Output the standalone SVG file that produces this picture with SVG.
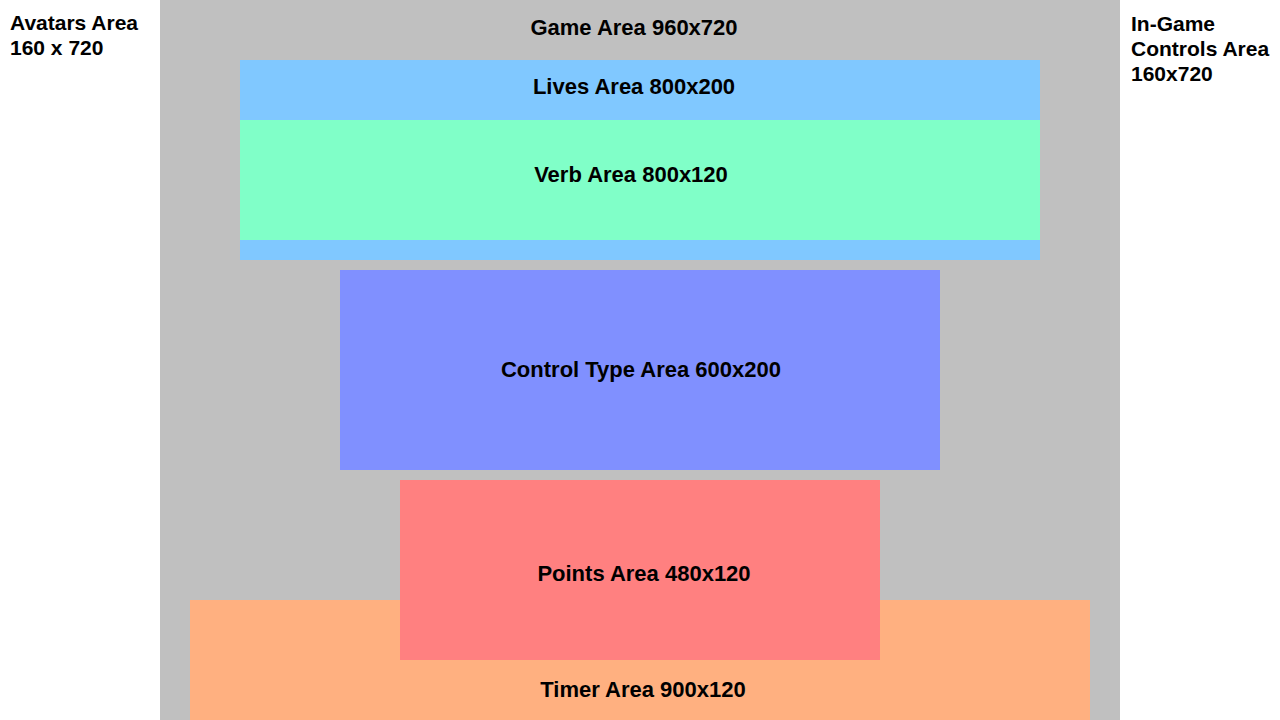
<svg xmlns="http://www.w3.org/2000/svg" width="1280" height="720" viewBox="0 0 1280 720">
<style>
text{font-family:"Liberation Sans",Arial,sans-serif;font-weight:bold;font-size:21px;fill:#000}
.c{text-anchor:middle;font-size:22px}
</style>
<rect x="0" y="0" width="1280" height="720" fill="#ffffff"/>
<g id="avatars">
<text x="10" y="30">Avatars Area</text>
<text x="10" y="55">160 x 720</text>
</g>
<g id="controls">
<text x="1131" y="31">In-Game</text>
<text x="1131" y="56">Controls Area</text>
<text x="1131" y="81">160x720</text>
</g>
<g id="game">
<rect x="160" y="0" width="960" height="720" fill="#c0c0c0"/>
<text class="c" x="634" y="35">Game Area 960x720</text>
</g>
<g id="lives">
<rect x="240" y="60" width="800" height="200" fill="#80c8ff"/>
<text class="c" x="634" y="94">Lives Area 800x200</text>
</g>
<g id="verb">
<rect x="240" y="120" width="800" height="120" fill="#80ffc8"/>
<text class="c" x="631" y="182">Verb Area 800x120</text>
</g>
<g id="controltype">
<rect x="340" y="270" width="600" height="200" fill="#8090ff"/>
<text class="c" x="641" y="377">Control Type Area 600x200</text>
</g>
<g id="timer">
<rect x="190" y="600" width="900" height="120" fill="#ffb080"/>
<text class="c" x="643" y="697">Timer Area 900x120</text>
</g>
<g id="points">
<rect x="400" y="480" width="480" height="180" fill="#ff8080"/>
<text class="c" x="644" y="581">Points Area 480x120</text>
</g>
<g id="connectors"/>
</svg>
